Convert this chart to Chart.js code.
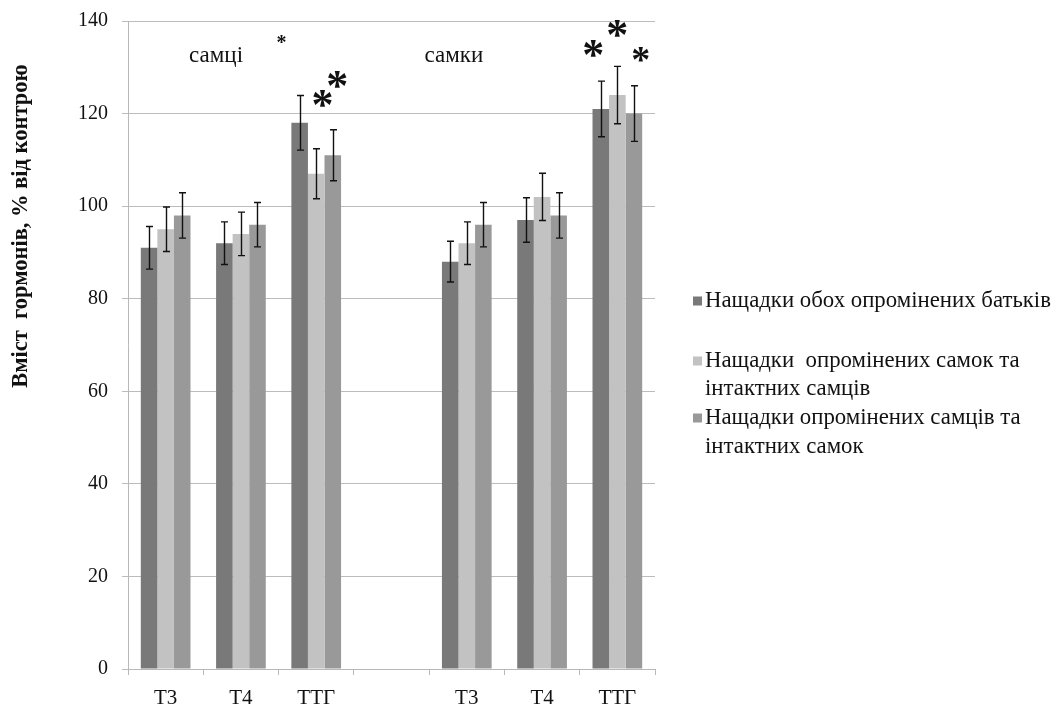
<!DOCTYPE html>
<html><head><meta charset="utf-8">
<style>html,body{margin:0;padding:0;background:#fff}#wrap{position:relative;width:1058px;height:709px}</style>
<script src="https://cdn.jsdelivr.net/npm/chart.js@4.4.0/dist/chart.umd.min.js"></script>
</head><body><div id="wrap"><canvas id="c" width="1058" height="709"></canvas></div>
<script>
// ---- data ----
const categories = ['Т3', 'Т4', 'ТТГ', '', 'Т3', 'Т4', 'ТТГ'];
const seriesNames = [
  ['Нащадки обох опромінених батьків'],
  ['Нащадки  опромінених самок та', 'інтактних самців'],
  ['Нащадки опромінених самців та', 'інтактних самок']
];
const bothIrradiated    = [91, 92, 118, null, 88, 97, 121];
const irradiatedFemales = [95, 94, 107, null, 92, 102, 124];
const irradiatedMales   = [98, 96, 111, null, 96, 98, 120];
const errBoth    = [4.6, 4.6, 5.9, null, 4.4, 4.8, 6.0];
const errFemales = [4.8, 4.7, 5.4, null, 4.6, 5.1, 6.2];
const errMales   = [4.9, 4.8, 5.5, null, 4.8, 4.9, 6.0];
const yTicks = [0, 20, 40, 60, 80, 100, 120, 140];
const yTitle = 'Вміст  гормонів, % від контрою';
const groupLabels = ['самці', 'самки'];
// significance marks: [category position, value level, size]
const marks = [
  [1.54, 135.7, 20],
  [2.085, 122.5, 44],
  [2.28, 126.6, 44],
  [5.68, 133.3, 44],
  [6.0, 137.6, 44],
  [6.31, 132.2, 38]
];

const colors = ['#797979', '#c2c2c2', '#999999'];
const FONT = "'Liberation Serif', 'Times New Roman', serif";

const overlay = {
  id: 'overlay',
  afterDatasetsDraw(chart) {
    const ctx = chart.ctx;
    const ys = chart.scales.y, xs = chart.scales.x;
    const errs = [errBoth, errFemales, errMales];
    ctx.save();
    ctx.strokeStyle = '#111';
    ctx.lineWidth = 1.4;
    chart.data.datasets.forEach((ds, di) => {
      const meta = chart.getDatasetMeta(di);
      meta.data.forEach((bar, i) => {
        const v = ds.data[i], e = errs[di][i];
        if (v == null || e == null) return;
        const x = Math.round(bar.x) + 0.5;
        const y1 = ys.getPixelForValue(v + e), y2 = ys.getPixelForValue(v - e);
        ctx.beginPath();
        ctx.moveTo(x, y1); ctx.lineTo(x, y2);
        ctx.moveTo(x - 3.5, y1); ctx.lineTo(x + 3.5, y1);
        ctx.moveTo(x - 3.5, y2); ctx.lineTo(x + 3.5, y2);
        ctx.stroke();
      });
    });
    // group labels
    ctx.fillStyle = '#111';
    ctx.textAlign = 'center';
    ctx.textBaseline = 'middle';
    ctx.font = '23px ' + FONT;
    ctx.fillText(groupLabels[0], xs.getPixelForValue(0.67), ys.getPixelForValue(132.4));
    ctx.fillText(groupLabels[1], xs.getPixelForValue(3.83), ys.getPixelForValue(132.4));
    // asterisks
    marks.forEach(([c, v, s]) => {
      ctx.font = 'bold ' + s + 'px ' + FONT;
      ctx.fillText('*', xs.getPixelForValue(c), ys.getPixelForValue(v) + s * 0.13);
    });
    // y axis title
    ctx.save();
    ctx.translate(21, 226);
    ctx.rotate(-Math.PI / 2);
    ctx.font = 'bold 22.5px ' + FONT;
    ctx.fillText(yTitle, 0, 0);
    ctx.restore();
    // legend
    const rows = [[301], [361, 389], [418, 447]];
    ctx.textAlign = 'left';
    ctx.font = '22.8px ' + FONT;
    seriesNames.forEach((lines, i) => {
      ctx.fillStyle = colors[i];
      ctx.fillRect(693, rows[i][0] - 4.5, 9, 9);
      ctx.fillStyle = '#111';
      lines.forEach((t, k) => ctx.fillText(t, 705, rows[i][k]));
    });
    ctx.restore();
  }
};

new Chart(document.getElementById('c'), {
  type: 'bar',
  data: {
    labels: categories,
    datasets: [bothIrradiated, irradiatedFemales, irradiatedMales].map((d, i) => ({
      label: seriesNames[i].join(' '),
      data: d,
      backgroundColor: colors[i],
      borderWidth: 0,
      categoryPercentage: 0.66,
      barPercentage: 1.0
    }))
  },
  options: {
    responsive: false,
    animation: false,
    layout: { padding: { left: 0, right: 403, top: 21, bottom: 0 } },
    plugins: { legend: { display: false }, tooltip: { enabled: false } },
    scales: {
      x: {
        afterFit(s) { s.height = 40; s.paddingLeft = 0; s.paddingRight = 0; },
        grid: { offset: true, drawOnChartArea: false, tickLength: 6, color: '#b8b8b8' },
        border: { color: '#b8b8b8' },
        ticks: { font: { family: FONT, size: 21 }, color: '#111', padding: 11, maxRotation: 0 }
      },
      y: {
        min: 0, max: 140,
        afterFit(s) { s.width = 128; s.paddingTop = 0; s.paddingBottom = 0; },
        afterBuildTicks(s) { s.ticks = yTicks.map(v => ({ value: v })); },
        grid: { color: '#bcbcbc', tickLength: 6 },
        border: { color: '#b8b8b8' },
        ticks: { font: { family: FONT, size: 20 }, color: '#111', padding: 14 }
      }
    }
  },
  plugins: [overlay]
});
</script></body></html>
